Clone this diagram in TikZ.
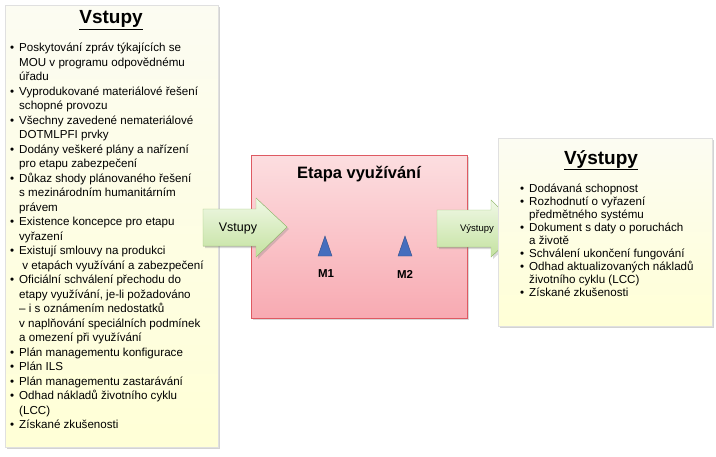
\documentclass[tikz,border=0pt]{standalone}
\usepackage{fontspec}
\setmainfont{Liberation Sans}
\usetikzlibrary{shadows}
\definecolor{noteyellow}{RGB}{255,255,214}
\definecolor{notetop}{RGB}{252,252,242}
\definecolor{pinkfill}{RGB}{248,170,178}
\definecolor{pinktop}{RGB}{252,222,224}
\definecolor{redline}{RGB}{222,90,98}
\definecolor{greenfill}{RGB}{196,226,160}
\definecolor{greentop}{RGB}{240,248,230}
\definecolor{greenline}{RGB}{160,200,120}
\definecolor{tribl}{RGB}{70,110,190}
\newcommand{\bul}{\makebox[9pt][l]{\textbullet}}
\newcommand{\ind}{\hspace*{9pt}}
\tikzset{
  notebox/.style={top color=notetop, bottom color=noteyellow, draw=black!12,
    drop shadow={opacity=0.35, shadow xshift=2pt, shadow yshift=-2pt}},
  listtext/.style={anchor=north west, align=left, inner sep=0pt,
    font=\fontsize{11.6}{14.5}\selectfont},
  arrowbody/.style={top color=greentop, bottom color=greenfill, draw=greenline,
    drop shadow={opacity=0.3, shadow xshift=2pt, shadow yshift=-2pt}},
  marker/.style={fill=tribl, draw=tribl!70!black},
}
\begin{document}
\begin{tikzpicture}[x=1pt,y=-1pt]
\useasboundingbox (0,0) rectangle (716,456);
% left note
\fill[notebox] (5,5) rectangle (218,447);
\node (intitle) at (111,20) {\fontsize{19}{22}\selectfont\bfseries\underline{Vstupy}};
\node[listtext] (inlist) at (10,43) {%
\bul Poskytování zpráv týkajících se\\
\ind MOU v programu odpovědnému\\
\ind úřadu\\
\bul Vyprodukované materiálové řešení\\
\ind schopné provozu\\
\bul Všechny zavedené nemateriálové\\
\ind DOTMLPFI prvky\\
\bul Dodány veškeré plány a nařízení\\
\ind pro etapu zabezpečení\\
\bul Důkaz shody plánovaného řešení\\
\ind s mezinárodním humanitárním\\
\ind právem\\
\bul Existence koncepce pro etapu\\
\ind vyřazení\\
\bul Existují smlouvy na produkci\\
\ind\ v etapách využívání a zabezpečení\\
\bul Oficiální schválení přechodu do\\
\ind etapy využívání, je-li požadováno\\
\ind – i s oznámením nedostatků\\
\ind v naplňování speciálních podmínek\\
\ind a omezení při využívání\\
\bul Plán managementu konfigurace\\
\bul Plán ILS\\
\bul Plán managementu zastarávání\\
\bul Odhad nákladů životního cyklu\\
\ind (LCC)\\
\bul Získané zkušenosti};
% middle stage
\fill[top color=pinktop, bottom color=pinkfill, draw=redline,
  drop shadow={opacity=0.3, shadow xshift=2pt, shadow yshift=-2pt}]
  (251,155) rectangle (467,318);
\node (stage) at (359,174) {\fontsize{16.5}{19}\selectfont\bfseries Etapa využívání};
\fill[marker] (318,256) -- (325,236) -- (332,256) -- cycle;
\fill[marker] (398,256) -- (405,236) -- (412,256) -- cycle;
\node (m1) at (326,274) {\fontsize{11.5}{13}\selectfont\bfseries M1};
\node (m2) at (405,274) {\fontsize{11.5}{13}\selectfont\bfseries M2};
% arrows
\fill[arrowbody] (203,209) -- (256,209) -- (256,198) -- (287,227) -- (256,257) -- (256,246) -- (203,246) -- cycle;
\node (inarrow) at (238,228) {\fontsize{12.5}{14}\selectfont Vstupy};
\fill[arrowbody] (437,210) -- (491,210) -- (491,200) -- (521,229) -- (491,257) -- (491,247) -- (437,247) -- cycle;
\node (outarrow) at (477,229) {\fontsize{9.5}{11}\selectfont Výstupy};
% right note
\fill[notebox] (498,138) rectangle (712,326);
\node (outtitle) at (601,160) {\fontsize{19}{22}\selectfont\bfseries\underline{Výstupy}};
\node[listtext, font=\fontsize{11.6}{13}\selectfont] (outlist) at (520,184) {%
\bul Dodávaná schopnost\\
\bul Rozhodnutí o vyřazení\\
\ind předmětného systému\\
\bul Dokument s daty o poruchách\\
\ind a životě\\
\bul Schválení ukončení fungování\\
\bul Odhad aktualizovaných nákladů\\
\ind životního cyklu (LCC)\\
\bul Získané zkušenosti};
\end{tikzpicture}
\end{document}
